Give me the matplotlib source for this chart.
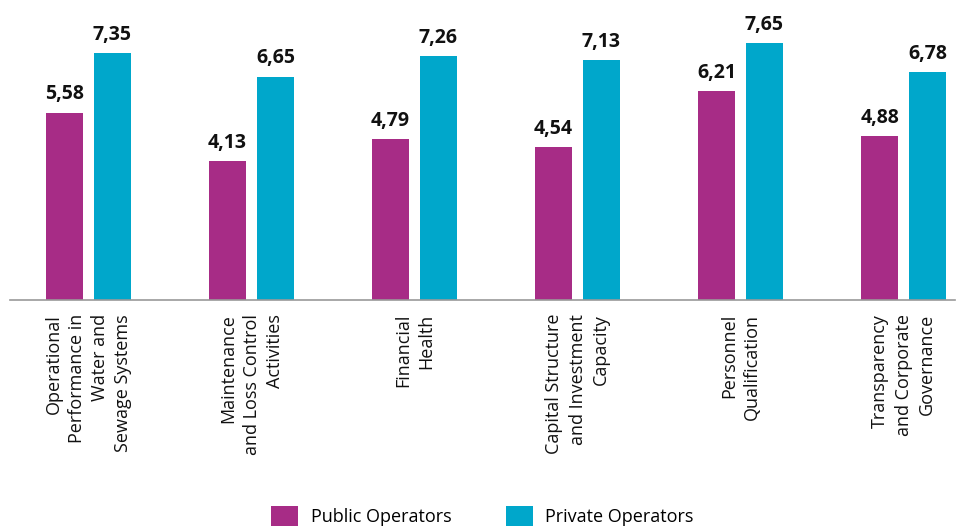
import matplotlib
matplotlib.use("Agg")
import matplotlib.pyplot as plt
import numpy as np

categories = [
    "Operational\nPerformance in\nWater and\nSewage Systems",
    "Maintenance\nand Loss Control\nActivities",
    "Financial\nHealth",
    "Capital Structure\nand Investment\nCapacity",
    "Personnel\nQualification",
    "Transparency\nand Corporate\nGovernance",
]
public_vals = [5.58, 4.13, 4.79, 4.54, 6.21, 4.88]
private_vals = [7.35, 6.65, 7.26, 7.13, 7.65, 6.78]
series_names = ["Public Operators", "Private Operators"]
colors = ["#A72C86", "#00A7CB"]

plt.rcParams['font.family'] = ['Open Sans', 'DejaVu Sans']

W, H = 965, 528
fig = plt.figure(figsize=(W / 100, H / 100), dpi=100)
# axes in pixel coords: left 10, right 955, bottom y=300 (from top), top y=20
ax = fig.add_axes([10 / W, (H - 300) / H, 945 / W, 280 / H])

x = np.arange(len(categories))
bw = 0.227
off = 0.147
b1 = ax.bar(x - off, public_vals, bw, color=colors[0], label=series_names[0])
b2 = ax.bar(x + off, private_vals, bw, color=colors[1], label=series_names[1])

for bars, vals in ((b1, public_vals), (b2, private_vals)):
    for rect, v in zip(bars, vals):
        ax.annotate(f"{v:.2f}".replace(".", ","),
                    (rect.get_x() + rect.get_width() / 2, v),
                    xytext=(0, 6), textcoords="offset points",
                    ha="center", va="bottom", fontsize=14, fontweight="bold",
                    color="#111111")

ax.set_xlim(-78.5 / 163, (955 - 88.5) / 163)
ax.set_ylim(0, 280 / 33.6)
ax.set_xticks(x)
ax.set_xticklabels(categories, rotation=90, ha="center", va="top",
                   multialignment="right", fontsize=13, color="#111111",
                   linespacing=1.38)
ax.tick_params(axis="x", length=0, pad=10)
ax.set_yticks([])
for s in ("top", "right", "left"):
    ax.spines[s].set_visible(False)
ax.spines["bottom"].set_color("#999999")
ax.spines["bottom"].set_linewidth(1.2)

fig.legend(handles=[b1, b2], labels=series_names, loc="upper center",
           bbox_to_anchor=(0.5, 1 - 490 / H), ncol=2, frameon=False,
           fontsize=13, handlelength=1.5, handleheight=1.3,
           columnspacing=3.0, handletextpad=0.7)

fig.savefig("out.png", dpi=100)
